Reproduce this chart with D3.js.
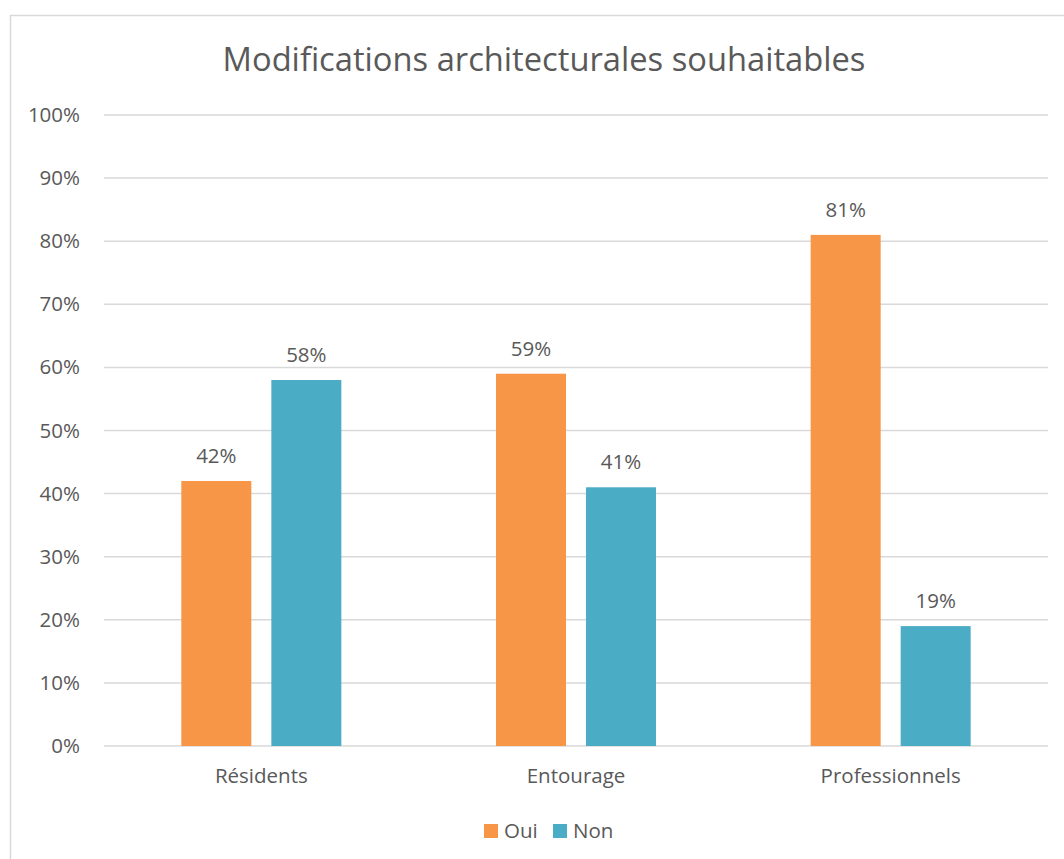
<!DOCTYPE html>
<html>
<head>
<meta charset="utf-8">
<script src="https://cdnjs.cloudflare.com/ajax/libs/d3/7.8.5/d3.min.js"></script>
<style>
  body { margin: 0; background: #fff; }
  text { font-family: "Open Sans", sans-serif; fill: #595959; }
</style>
</head>
<body>
<script>
// Data
const categories = ["Résidents", "Entourage", "Professionnels"];
const seriesNames = ["Oui", "Non"];
const ouiValues = [0.42, 0.59, 0.81];
const nonValues = [0.58, 0.41, 0.19];
const yTicks = [0, 0.1, 0.2, 0.3, 0.4, 0.5, 0.6, 0.7, 0.8, 0.9, 1.0];
const title = "Modifications architecturales souhaitables";

// Layout
const width = 1064;
const height = 859;
const plot = {left: 104, right: 1048, top: 115, bottom: 746};
const colors = ["#F79646", "#4BACC6"];

const svg = d3.select('body')
  .append('svg')
  .attr('width', width)
  .attr('height', height);

// chart frame
svg.append('rect')
  .attr('x', 10.5).attr('y', 15.5)
  .attr('width', 1070).attr('height', 870)
  .attr('fill', 'none')
  .attr('stroke', '#d9d9d9')
  .attr('stroke-width', 1.5);

// scales
const x = d3.scaleBand()
  .domain(categories)
  .range([plot.left, plot.right]);

// two bars of 70px with a 20px gap
const xInner = d3.scaleBand()
  .domain(seriesNames)
  .range([0, 160])
  .paddingInner(2 / 9);

const y = d3.scaleLinear()
  .domain([0, 1])
  .range([plot.bottom, plot.top]);

// gridlines
svg.append('g')
  .selectAll('line')
  .data(yTicks)
  .join('line')
  .attr('x1', plot.left).attr('x2', plot.right)
  .attr('y1', d => y(d)).attr('y2', d => y(d))
  .attr('stroke', '#d9d9d9')
  .attr('stroke-width', 1.5);

// y axis labels
const yAxis = d3.axisLeft(y)
  .tickValues(yTicks)
  .tickFormat(d3.format('.0%'))
  .tickSize(0)
  .tickPadding(0);

svg.append('g')
  .attr('transform', 'translate(80,0)')
  .call(yAxis)
  .call(g => g.select('.domain').remove())
  .selectAll('text')
  .attr('font-size', 20.5)
  .attr('font-family', '"Open Sans", sans-serif')
  .attr('fill', '#595959');

// x axis labels
const xAxis = d3.axisBottom(x).tickSize(0).tickPadding(0);
svg.append('g')
  .attr('transform', 'translate(0,' + (plot.bottom + 22) + ')')
  .call(xAxis)
  .call(g => g.select('.domain').remove())
  .selectAll('text')
  .attr('font-size', 20.5)
  .attr('font-family', '"Open Sans", sans-serif')
  .attr('fill', '#595959');

// bars
const rows = categories.map((c, i) => ({
  category: c,
  values: [
    {name: "Oui", value: ouiValues[i]},
    {name: "Non", value: nonValues[i]}
  ]
}));

const groups = svg.append('g')
  .selectAll('g')
  .data(rows)
  .join('g')
  .attr('transform', d => 'translate(' + (x(d.category) + (x.bandwidth() - 160) / 2) + ',0)');

groups.selectAll('rect')
  .data(d => d.values)
  .join('rect')
  .attr('x', d => xInner(d.name))
  .attr('width', xInner.bandwidth())
  .attr('y', d => y(d.value))
  .attr('height', d => y(0) - y(d.value))
  .attr('fill', (d, i) => colors[i]);

groups.selectAll('text')
  .data(d => d.values)
  .join('text')
  .attr('x', d => xInner(d.name) + xInner.bandwidth() / 2)
  .attr('y', d => y(d.value) - 18)
  .attr('text-anchor', 'middle')
  .attr('font-size', 20.5)
  .text(d => d3.format('.0%')(d.value));

// title
svg.append('text')
  .attr('x', 544)
  .attr('y', 71)
  .attr('text-anchor', 'middle')
  .attr('font-size', 32.7)
  .text(title);

// legend
const legend = svg.append('g').attr('transform', 'translate(484,824)');
const legendX = [0, 69];
seriesNames.forEach((name, i) => {
  legend.append('rect')
    .attr('x', legendX[i]).attr('y', 0)
    .attr('width', 14).attr('height', 14)
    .attr('fill', colors[i]);
  legend.append('text')
    .attr('x', legendX[i] + 20).attr('y', 14)
    .attr('font-size', 20.5)
    .text(name);
});
</script>
</body>
</html>
